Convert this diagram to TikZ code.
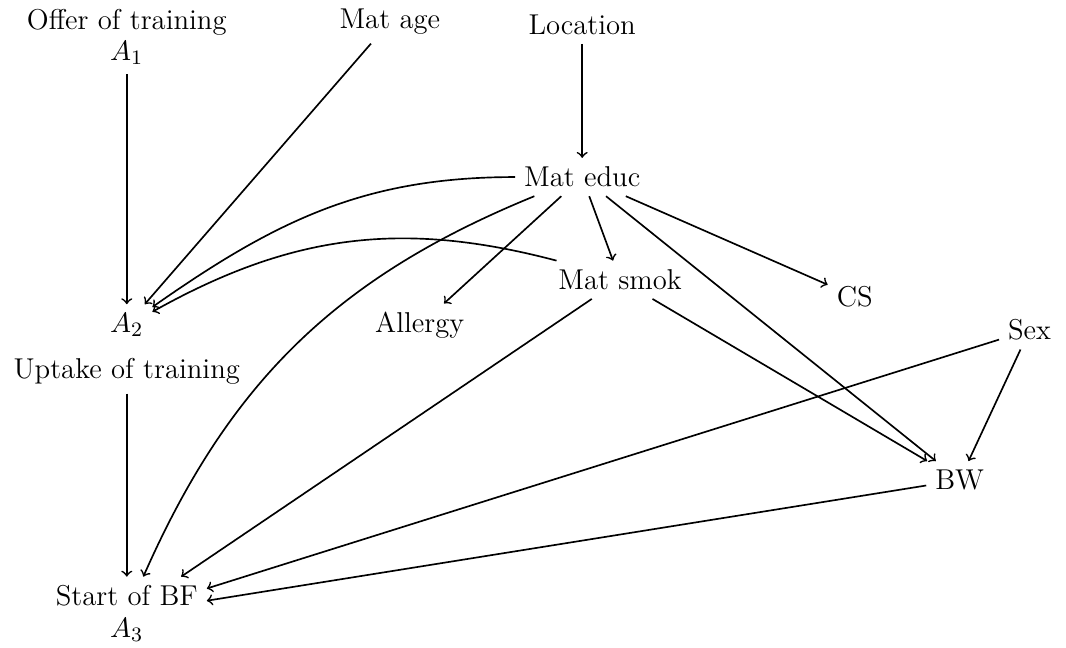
\documentclass[tikz,border=0pt]{standalone}
\usetikzlibrary{positioning}

\begin{document}
\begin{tikzpicture}[
  var/.style={
      align=center,
      font=\fontsize{11.2}{12.2}\selectfont
    },
  dep/.style={
      ->,
      line width=0.65pt
    }]
  \useasboundingbox (0,0) rectangle (14.63,8.89);

  \node [var] (offer) at (1.74,8.38) {Offer of training\\ $A_1$};
  \node [var] (age) at (5.35,8.59) {Mat age};
  \node [var] (loc) at (7.99,8.55) {Location};
  \node [var] (educ) at (7.99,6.46) {Mat educ};
  \node [var] (uptake) at (1.74,4.43) {$A_2$};
  \node [var] (uplabel) at (1.74,3.79) {Uptake of training};
  \node [var] (smok) at (8.51,5.05) {Mat smok};
  \node [var] (allergy) at (5.76,4.42) {Allergy};
  \node [var] (cs) at (11.73,4.82) {CS};
  \node [var] (sex) at (14.13,4.36) {Sex};
  \node [var] (bw) at (13.17,2.30) {BW};
  \node [var] (bf) at (1.74,0.47) {Start of BF\\ $A_3$};

  \draw [dep] (offer) -- (uptake);
  \draw [dep] (age) -- (uptake);
  \draw [dep] (loc) -- (educ);
  \draw [dep] (educ) to [out=180,in=35] (uptake);
  \draw [dep] (smok) to [bend right=22] (uptake);
  \draw [dep] (educ) to [bend right=22] (bf);
  \draw [dep] (educ) -- (allergy);
  \draw [dep] (educ) -- (smok);
  \draw [dep] (educ) -- (cs);
  \draw [dep] (educ) -- (bw);
  \draw [dep] (smok) -- (bw);
  \draw [dep] (smok) -- (bf);
  \draw [dep] (sex) -- (bf);
  \draw [dep] (sex) -- (bw);
  \draw [dep] (bw) -- (bf);
  \draw [dep] (uplabel) -- (bf);
\end{tikzpicture}
\end{document}
